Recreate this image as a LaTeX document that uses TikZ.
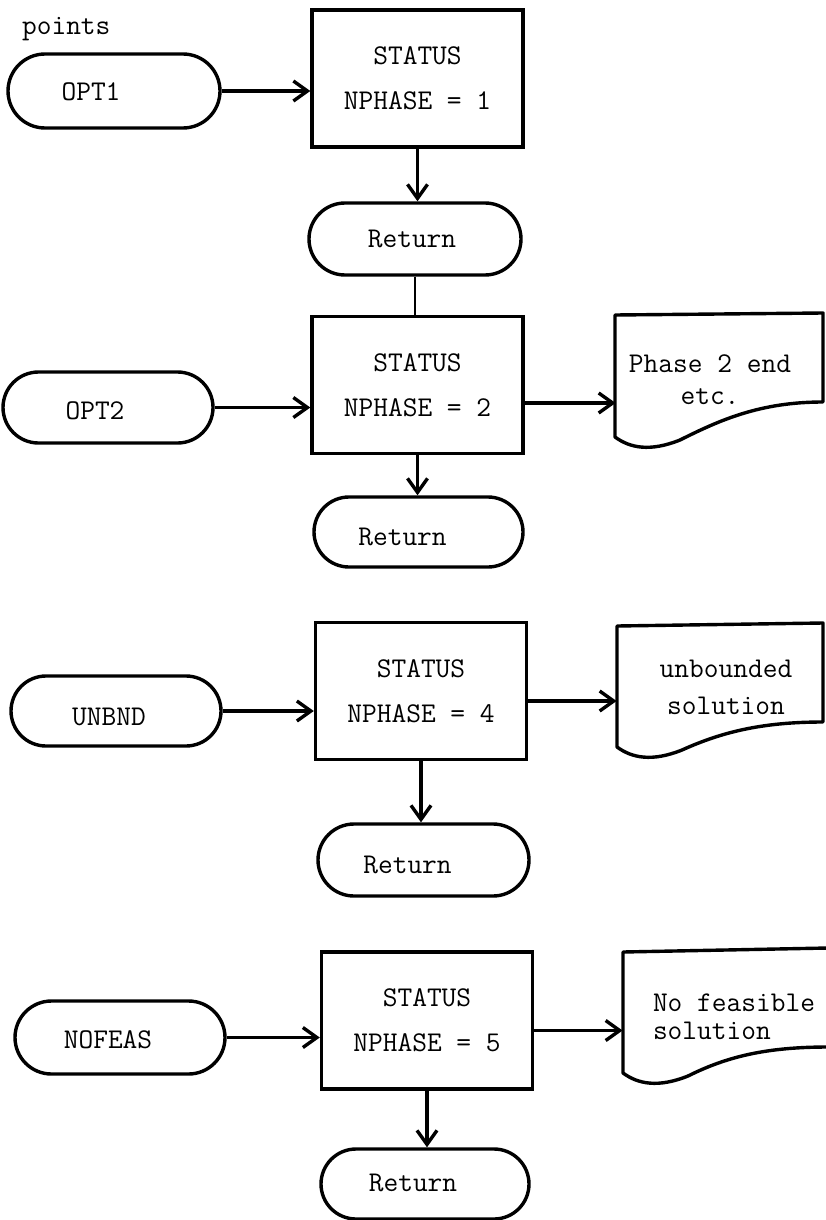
\documentclass[tikz,border=0pt]{standalone}
\usetikzlibrary{shapes.misc,arrows.meta}
\begin{document}
\begin{tikzpicture}[x=0.5pt,y=-0.5pt,
  every node/.style={font=\fontsize{14.3}{22.5}\selectfont\ttfamily},
  box/.style={draw, line width=1.7pt, minimum width=105.5pt, minimum height=68.5pt,
    inner sep=0pt, align=center},
  term/.style={draw, line width=1.7pt, rounded rectangle, minimum width=105.5pt,
    minimum height=36pt, inner sep=0pt},
  doc/.style={inner sep=0pt, minimum width=103pt, minimum height=67pt},
  flow/.style={line width=1.7pt, -{Straight Barb[length=7pt,width=10pt,line width=1.7pt]}},
  link/.style={line width=1pt},
  outline/.style={line width=1.7pt, line join=round}
]
\useasboundingbox (0,0) rectangle (825,1220);

\node[anchor=base west] (pts) at (15,35) {points};

% entry points
\node[term, minimum width=106pt, minimum height=37pt,
  label={[xshift=-11.5pt,yshift=-0.5pt]center:OPT1}] (opt1) at (114,91) {};
\node[term, minimum width=105pt, minimum height=35.5pt,
  label={[xshift=-6.5pt,yshift=-1.5pt]center:OPT2}] (opt2) at (108,407.5) {};
\node[term, minimum width=105pt, minimum height=35pt,
  label={[xshift=-3.5pt,yshift=-3pt]center:UNBND}] (unbnd) at (116,711) {};
\node[term, minimum width=105pt, minimum height=36.5pt,
  label={[xshift=-6pt,yshift=-1pt]center:NOFEAS}] (nofeas) at (120,1037.5) {};

% status boxes
\node[box] (box1) at (417.5,78.5) {STATUS\\NPHASE = 1};
\node[box] (box2) at (417.5,385) {STATUS\\NPHASE = 2};
\node[box] (box3) at (421,691) {STATUS\\NPHASE = 4};
\node[box] (box4) at (427,1020.5) {STATUS\\NPHASE = 5};

% returns
\node[term, minimum width=106pt,
  label={[xshift=-1.5pt]center:Return}] (ret1) at (415,239) {};
\node[term, minimum width=104.5pt, minimum height=35pt,
  label={[xshift=-8pt,yshift=-2.5pt]center:Return}] (ret2) at (418.5,532) {};
\node[term, minimum width=105.5pt,
  label={[xshift=-8pt,yshift=-2.5pt]center:Return}] (ret3) at (423.5,860) {};
\node[term, minimum width=104pt, minimum height=35pt,
  label={[xshift=-6pt,yshift=0.5pt]center:Return}] (ret4) at (425,1184) {};

% printed outputs
\node[doc, label={[xshift=-4.5pt,align=center,font=\fontsize{14.3}{16}\selectfont\ttfamily]center:Phase 2 end\\etc.}]
  (doc1) at (719,380) {};
\node[doc, label={[xshift=3pt,yshift=1.5pt,align=center,font=\fontsize{14.3}{18.5}\selectfont\ttfamily]center:unbounded\\solution}]
  (doc2) at (720,690) {};
\node[doc, minimum width=101.5pt, label={[xshift=4.75pt,align=left,font=\fontsize{14.3}{14}\selectfont\ttfamily]center:No feasible\\solution}]
  (doc3) at (724.5,1016.5) {};

\draw[outline] (823,402) -- (823,313) -- (615,315) -- (615,437)
  .. controls (630,448) and (650,452) .. (680,440)
  .. controls (720,420) and (760,402) .. (823,402) -- cycle;
\draw[outline] (823,722) -- (823,623) -- (617,626) -- (617,747)
  .. controls (632,758) and (652,762) .. (682,750)
  .. controls (722,732) and (762,722) .. (823,722) -- cycle;
\draw[outline] (828,1047) -- (828,948) -- (623,952) -- (623,1073)
  .. controls (638,1084) and (658,1088) .. (688,1076)
  .. controls (728,1056) and (768,1047) .. (828,1047) -- cycle;

% connectors
\draw[flow] (opt1.east) -- (box1.west |- opt1.east);
\draw[flow] (box1.south) -- (box1.south |- ret1.north);
\draw[link] (ret1.south) -- (ret1.south |- box2.north);
\draw[flow] (opt2.east) -- (box2.west |- opt2.east);
\draw[flow] ([yshift=-9pt]box2.east) -- ([yshift=-9pt]box2.east -| doc1.west);
\draw[flow] (box2.south) -- (box2.south |- ret2.north);
\draw[flow] (unbnd.east) -- (box3.west |- unbnd.east);
\draw[flow] ([yshift=-5pt]box3.east) -- ([yshift=-5pt]box3.east -| doc2.west);
\draw[flow] (box3.south) -- (box3.south |- ret3.north);
\draw[flow] (nofeas.east) -- (box4.west |- nofeas.east);
\draw[flow] ([yshift=-5pt]box4.east) -- ([yshift=-5pt]box4.east -| doc3.west);
\draw[flow] (box4.south) -- (box4.south |- ret4.north);
\end{tikzpicture}
\end{document}
